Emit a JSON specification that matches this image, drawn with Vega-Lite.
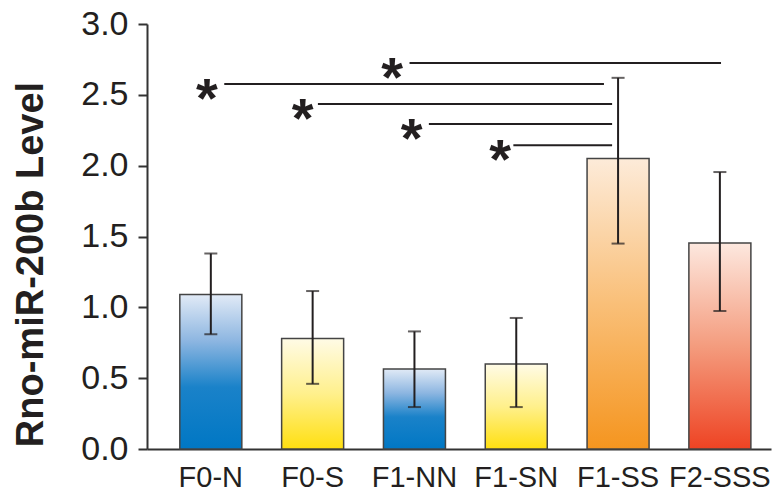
{
  "$schema": "https://vega.github.io/schema/vega-lite/v6.json",
  "autosize": {"type": "none"},
  "padding": {"left": 147, "top": 24, "right": 7, "bottom": 47},
  "width": 624,
  "height": 425,
  "config": {
    "view": {"stroke": null},
    "font": "Liberation Sans",
    "axisX": {"labelFontSize": 29, "labelColor": "#231f20", "labelPadding": 14, "ticks": false, "labelAngle": 0}
  },
  "datasets": {
    "bars": [
      {"group": "F0-N", "mean": 1.09, "lo": 0.81, "hi": 1.38},
      {"group": "F0-S", "mean": 0.78, "lo": 0.46, "hi": 1.115},
      {"group": "F1-NN", "mean": 0.565, "lo": 0.296, "hi": 0.83},
      {"group": "F1-SN", "mean": 0.6, "lo": 0.296, "hi": 0.925},
      {"group": "F1-SS", "mean": 2.05, "lo": 1.45, "hi": 2.62},
      {"group": "F2-SSS", "mean": 1.455, "lo": 0.974, "hi": 1.955}
    ],
    "sig": [
      {"star": 1.78, "start": 1.95, "end": 5.01, "level": 2.724},
      {"star": -0.04, "start": 0.13, "end": 3.86, "level": 2.576},
      {"star": 0.9, "start": 1.05, "end": 3.94, "level": 2.435},
      {"star": 1.97, "start": 2.14, "end": 3.94, "level": 2.294},
      {"star": 2.84, "start": 2.97, "end": 3.94, "level": 2.145}
    ]
  },
  "resolve": {"scale": {"x": "independent"}},
  "layer": [
    {
      "data": {"name": "bars"},
      "encoding": {
        "x": {
          "field": "group",
          "type": "nominal",
          "sort": ["F0-N", "F0-S", "F1-NN", "F1-SN", "F1-SS", "F2-SSS"],
          "scale": {"paddingInner": 0.391, "paddingOuter": 0.26, "align": 0.62, "round": false},
          "axis": {
            "title": null,
            "labelAngle": 0,
            "labelFontSize": 29,
            "labelColor": "#231f20",
            "labelPadding": 14,
            "ticks": false,
            "domainColor": "#333333",
            "domainWidth": 2
          }
        }
      },
      "layer": [
        {
          "transform": [{"filter": {"field": "group", "oneOf": ["F0-N", "F1-NN"]}}],
          "mark": {
            "type": "bar",
            "stroke": "#444444",
            "strokeWidth": 1.5,
            "fill": {
              "gradient": "linear", "x1": 0, "y1": 0, "x2": 0, "y2": 1,
              "stops": [
                {"offset": 0, "color": "#e1eaf6"},
                {"offset": 0.3, "color": "#8db6e1"},
                {"offset": 0.6, "color": "#1a82c9"},
                {"offset": 1, "color": "#0077c4"}
              ]
            }
          },
          "encoding": {
            "y": {
              "field": "mean", "type": "quantitative",
              "title": "Rno-miR-200b Level",
              "scale": {"domain": [0, 3], "nice": false, "zero": true},
              "axis": {
                "values": [0, 0.5, 1, 1.5, 2, 2.5, 3],
                "format": ".1f",
                "grid": false,
                "tickSize": 9,
                "tickWidth": 2,
                "tickColor": "#333333",
                "domainColor": "#333333",
                "domainWidth": 2,
                "labelFontSize": 34,
                "labelColor": "#231f20",
                "labelPadding": 10,
                "titleFontSize": 38,
                "titleFontWeight": "bold",
                "titleColor": "#231f20",
                "titleX": -105,
                "titleY": 240,
                "titleAlign": "center",
                "titleBaseline": "alphabetic",
                "titleAngle": -90
              }
            }
          }
        },
        {
          "transform": [{"filter": {"field": "group", "oneOf": ["F0-S", "F1-SN"]}}],
          "mark": {
            "type": "bar",
            "stroke": "#444444",
            "strokeWidth": 1.5,
            "fill": {
              "gradient": "linear", "x1": 0, "y1": 0, "x2": 0, "y2": 1,
              "stops": [
                {"offset": 0, "color": "#fffbe6"},
                {"offset": 0.5, "color": "#fff08c"},
                {"offset": 1, "color": "#ffdf10"}
              ]
            }
          },
          "encoding": {"y": {"field": "mean", "type": "quantitative", "title": "Rno-miR-200b Level"}}
        },
        {
          "transform": [{"filter": {"field": "group", "equal": "F1-SS"}}],
          "mark": {
            "type": "bar",
            "stroke": "#444444",
            "strokeWidth": 1.5,
            "fill": {
              "gradient": "linear", "x1": 0, "y1": 0, "x2": 0, "y2": 1,
              "stops": [
                {"offset": 0, "color": "#fdebd9"},
                {"offset": 0.5, "color": "#f9bf78"},
                {"offset": 1, "color": "#f5951f"}
              ]
            }
          },
          "encoding": {"y": {"field": "mean", "type": "quantitative", "title": "Rno-miR-200b Level"}}
        },
        {
          "transform": [{"filter": {"field": "group", "equal": "F2-SSS"}}],
          "mark": {
            "type": "bar",
            "stroke": "#444444",
            "strokeWidth": 1.5,
            "fill": {
              "gradient": "linear", "x1": 0, "y1": 0, "x2": 0, "y2": 1,
              "stops": [
                {"offset": 0, "color": "#fde8df"},
                {"offset": 0.5, "color": "#f49c7e"},
                {"offset": 1, "color": "#ee4323"}
              ]
            }
          },
          "encoding": {"y": {"field": "mean", "type": "quantitative", "title": "Rno-miR-200b Level"}}
        },
        {
          "mark": {"type": "rule", "color": "#231f20", "strokeWidth": 2},
          "encoding": {
            "y": {"field": "lo", "type": "quantitative", "title": "Rno-miR-200b Level"},
            "y2": {"field": "hi"}
          }
        },
        {
          "mark": {"type": "tick", "color": "#231f20", "thickness": 2, "size": 13},
          "encoding": {"y": {"field": "lo", "type": "quantitative", "title": "Rno-miR-200b Level"}}
        },
        {
          "mark": {"type": "tick", "color": "#231f20", "thickness": 2, "size": 13},
          "encoding": {"y": {"field": "hi", "type": "quantitative", "title": "Rno-miR-200b Level"}}
        }
      ]
    },
    {
      "data": {"name": "sig"},
      "layer": [
        {
          "mark": {"type": "rule", "color": "#231f20", "strokeWidth": 2},
          "encoding": {
            "x": {"field": "start", "type": "quantitative", "scale": {"domain": [-0.629, 5.501], "nice": false, "zero": false}, "axis": null},
            "x2": {"field": "end"},
            "y": {"field": "level", "type": "quantitative", "title": "Rno-miR-200b Level"}
          }
        },
        {
          "mark": {"type": "text", "text": "*", "fontSize": 56, "fontWeight": "bold", "color": "#231f20", "align": "center", "baseline": "alphabetic", "dy": 33},
          "encoding": {
            "x": {"field": "star", "type": "quantitative", "scale": {"domain": [-0.629, 5.501], "nice": false, "zero": false}, "axis": null},
            "y": {"field": "level", "type": "quantitative", "title": "Rno-miR-200b Level"}
          }
        }
      ]
    }
  ]
}
